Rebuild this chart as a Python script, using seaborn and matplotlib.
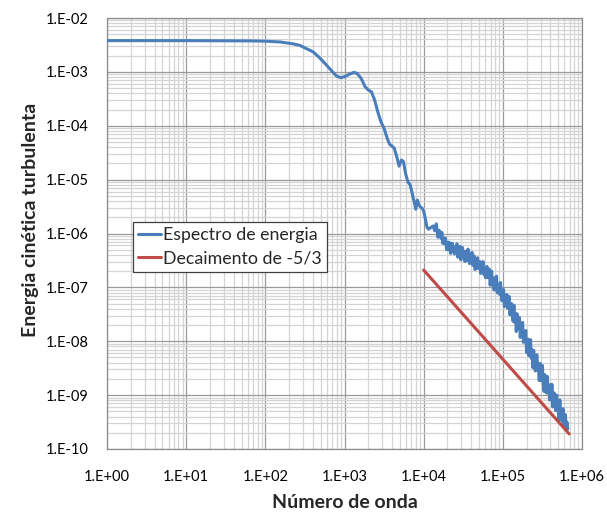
import numpy as np
import pandas as pd
import matplotlib
matplotlib.use("Agg")
import matplotlib.pyplot as plt
from matplotlib.ticker import LogLocator, FuncFormatter, NullFormatter
import seaborn as sns

# Energy spectrum, stored as decades: log10(wavenumber), log10(energy)
spec_log_k = [
    0.00, 1.00, 1.80, 2.00, 2.185, 2.353, 2.438, 2.52, 2.60, 2.68, 2.76, 2.85,
    2.90, 2.95, 3.00, 3.06, 3.12, 3.16, 3.21, 3.26, 3.30, 3.34, 3.38, 3.42,
    3.46, 3.50, 3.54, 3.57, 3.60, 3.63, 3.66, 3.69, 3.72, 3.745, 3.77, 3.80,
    3.83, 3.855, 3.88, 3.90, 3.92, 3.94, 3.96, 3.98, 4.00, 4.02, 4.04, 4.06,
    4.08, 4.10, 4.12, 4.14, 4.16, 4.18, 4.195,
    4.21, 4.22, 4.23, 4.24, 4.25, 4.26, 4.27, 4.28, 4.29, 4.30,
    4.31, 4.32, 4.33, 4.34, 4.35, 4.36, 4.37, 4.38, 4.39, 4.40,
    4.41, 4.42, 4.43, 4.44, 4.45, 4.46, 4.47, 4.48, 4.49, 4.50,
    4.51, 4.52, 4.53, 4.54, 4.55, 4.56, 4.57, 4.58, 4.59, 4.60,
    4.61, 4.62, 4.63, 4.64, 4.65, 4.66, 4.67, 4.68, 4.69, 4.70,
    4.71, 4.72, 4.73, 4.74, 4.75, 4.76, 4.77, 4.78, 4.79, 4.80,
    4.81, 4.82, 4.83, 4.84, 4.85, 4.86, 4.87, 4.88, 4.89, 4.90,
    4.91, 4.92, 4.93, 4.94, 4.95, 4.96, 4.97, 4.98, 4.99, 5.00,
    5.01, 5.02, 5.03, 5.04, 5.05, 5.06, 5.07, 5.08, 5.09, 5.10,
    5.11, 5.12, 5.13, 5.14, 5.15, 5.16, 5.17, 5.18, 5.19, 5.20,
    5.21, 5.22, 5.23, 5.24, 5.25, 5.26, 5.27, 5.28, 5.29, 5.30,
    5.31, 5.32, 5.33, 5.34, 5.35, 5.36, 5.37, 5.38, 5.39, 5.40,
    5.41, 5.42, 5.43, 5.44, 5.45, 5.46, 5.47, 5.48, 5.49, 5.50,
    5.51, 5.52, 5.53, 5.54, 5.55, 5.56, 5.57, 5.58, 5.59, 5.60,
    5.61, 5.62, 5.63, 5.64, 5.65, 5.66, 5.67, 5.68, 5.69, 5.70,
    5.71, 5.72, 5.73, 5.74, 5.75, 5.76, 5.77, 5.78, 5.79, 5.80,
    5.81, 5.82,
]
spec_log_e = [
    -2.42, -2.42, -2.425, -2.43, -2.445, -2.48, -2.51, -2.57, -2.625, -2.73, -2.854, -3.00,
    -3.077, -3.108, -3.09, -3.045, -3.008, -3.03, -3.12, -3.275, -3.336, -3.37, -3.52, -3.74,
    -3.925, -4.05, -4.235, -4.345, -4.376, -4.42, -4.575, -4.75, -4.636, -4.667, -4.88, -5.04,
    -5.10, -5.255, -5.41, -5.55, -5.38, -5.47, -5.51, -5.53, -5.58, -5.72, -5.874, -5.92,
    -5.90, -5.88, -5.86, -5.95, -5.82, -6.07, -5.94,
    -5.97, -6.09, -5.98, -6.18, -6.10, -6.19, -6.08, -6.15, -6.30, -6.17,
    -6.29, -6.16, -6.29, -6.37, -6.23, -6.18, -6.34, -6.30, -6.38, -6.24,
    -6.33, -6.19, -6.44, -6.29, -6.41, -6.24, -6.49, -6.33, -6.26, -6.42,
    -6.33, -6.52, -6.39, -6.33, -6.50, -6.29, -6.47, -6.56, -6.39, -6.52,
    -6.35, -6.59, -6.50, -6.42, -6.67, -6.50, -6.59, -6.45, -6.65, -6.56,
    -6.52, -6.74, -6.57, -6.66, -6.52, -6.76, -6.67, -6.82, -6.65, -6.61,
    -6.82, -6.80, -6.66, -6.96, -6.76, -6.70, -6.96, -6.88, -7.05, -6.82,
    -6.99, -6.79, -7.10, -6.97, -6.94, -7.13, -6.91, -7.11, -7.25, -7.07,
    -7.04, -7.36, -7.20, -7.31, -7.13, -7.39, -7.26, -7.17, -7.51, -7.39,
    -7.30, -7.50, -7.63, -7.33, -7.65, -7.49, -7.82, -7.49, -7.63, -7.76,
    -7.56, -7.93, -7.69, -7.85, -7.65, -8.02, -8.01, -7.89, -7.80, -8.21,
    -8.05, -7.96, -8.27, -8.11, -7.97, -8.32, -8.16, -8.49, -8.17, -8.39,
    -8.55, -8.31, -8.25, -8.54, -8.49, -8.73, -8.41, -8.73, -8.57, -8.45,
    -8.78, -8.93, -8.62, -8.78, -8.96, -8.65, -8.91, -8.81, -9.09, -8.81,
    -9.09, -8.80, -9.22, -9.02, -8.96, -9.18, -9.29, -9.00, -9.22, -9.12,
    -9.46, -9.09, -9.39, -9.27, -9.49, -9.25, -9.59, -9.43, -9.36, -9.62,
    -9.50, -9.63,
]

# -5/3 reference slope, end points
ref_k = [1.0e4, 6.9e5]
ref_e = [2.1e-7, 1.9e-10]

series_names = ["Espectro de energia", "Decaimento de -5/3"]
x_ticks = [1e0, 1e1, 1e2, 1e3, 1e4, 1e5, 1e6]
y_ticks = [1e-10, 1e-9, 1e-8, 1e-7, 1e-6, 1e-5, 1e-4, 1e-3, 1e-2]

spec = pd.DataFrame({
    "k": np.power(10.0, spec_log_k),
    "E": np.power(10.0, spec_log_e),
    "serie": series_names[0],
})
ref = pd.DataFrame({"k": ref_k, "E": ref_e, "serie": series_names[1]})
data = pd.concat([spec, ref], ignore_index=True)

sns.set_style("white")
plt.rcParams["font.family"] = ["Lato", "DejaVu Sans"]

fig = plt.figure(figsize=(6.07, 5.17), dpi=100)
ax = fig.add_axes([107 / 607, 1 - 449 / 517, 475 / 607, 431 / 517])

palette = {series_names[0]: "#4a7ebb", series_names[1]: "#be4b48"}
sns.lineplot(data=data, x="k", y="E", hue="serie", palette=palette,
             estimator=None, sort=False, linewidth=2.2, ax=ax, zorder=3)

ax.set_xscale("log")
ax.set_yscale("log")
ax.set_xlim(1e0, 1e6)
ax.set_ylim(1e-10, 1e-2)

ax.set_xticks(x_ticks)
ax.set_yticks(y_ticks)
ax.xaxis.set_minor_locator(LogLocator(base=10, subs=np.arange(2, 10), numticks=100))
ax.yaxis.set_minor_locator(LogLocator(base=10, subs=np.arange(2, 10), numticks=100))
ax.xaxis.set_minor_formatter(NullFormatter())
ax.yaxis.set_minor_formatter(NullFormatter())

fmt = FuncFormatter(lambda v, _: "1.E{:+03d}".format(int(round(np.log10(v)))))
ax.xaxis.set_major_formatter(fmt)
ax.yaxis.set_major_formatter(fmt)

ax.grid(which="major", color="#9a9a9a", linewidth=0.9, zorder=1)
ax.grid(which="minor", color="#d4d4d4", linewidth=0.9, zorder=0)
ax.set_axisbelow(True)

for s in ax.spines.values():
    s.set_color("#8c8c8c")
    s.set_linewidth(0.9)

ax.tick_params(axis="both", which="major", direction="out", length=5,
               width=0.9, color="#8c8c8c", labelsize=10.5, labelcolor="black")
ax.tick_params(axis="x", which="major", pad=10)
ax.tick_params(axis="y", which="major", pad=8)
ax.tick_params(axis="x", which="minor", direction="out", length=3,
               width=0.8, color="#8c8c8c")
ax.tick_params(axis="y", which="minor", length=0)

ax.set_xlabel("Número de onda", fontsize=14, fontweight="bold")
ax.set_ylabel("Energia cinética turbulenta", fontsize=14, fontweight="bold")
ax.xaxis.label.set_va("center")
ax.yaxis.label.set_va("center")
ax.xaxis.set_label_coords(0.5, -0.125)
ax.yaxis.set_label_coords(-0.162, 0.531)

leg = ax.legend(loc="upper left", bbox_to_anchor=(0.0547, 0.527),
                borderaxespad=0, fontsize=12.8, frameon=True, fancybox=False,
                edgecolor="#404040", framealpha=1, handlelength=1.25,
                handletextpad=0.15, borderpad=0.3, labelspacing=0.42)
leg.get_frame().set_linewidth(0.9)
for line in leg.get_lines():
    line.set_linewidth(2.2)

fig.savefig("out.png", dpi=100, facecolor="white")
